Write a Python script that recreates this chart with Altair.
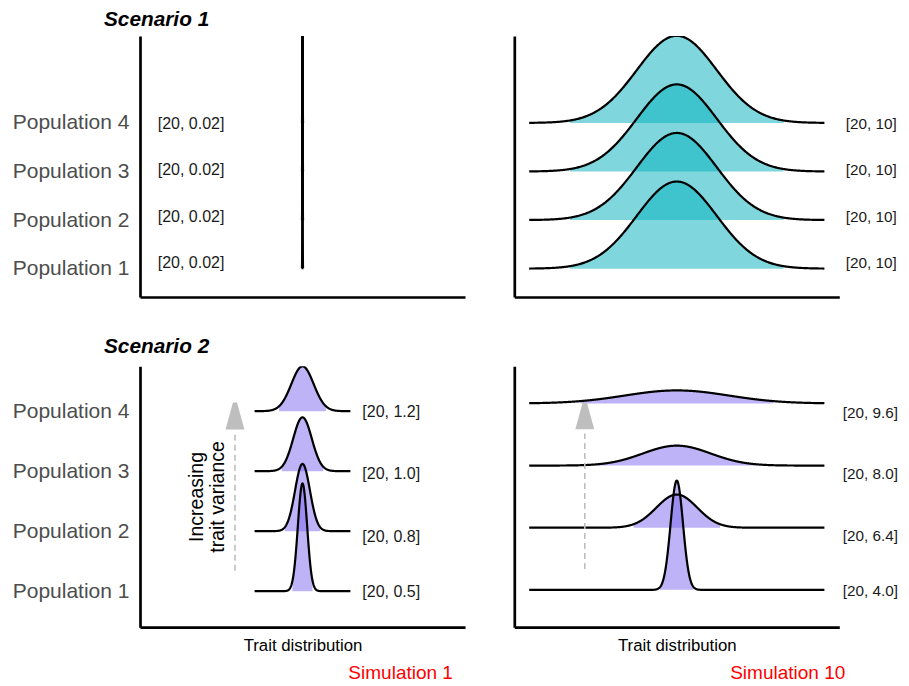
import numpy as np
import pandas as pd
import altair as alt

FONT = "Liberation Sans"
TEAL = "#00AFBB"
PURPLE = "#7B68EE"
ARROW_GREY = "#bebebe"

POPS = [1, 2, 3, 4]
MEAN = 20

# ---- Scenario 1 / Simulation 1 ----
S1_SIM1_LABELS = ["[20, 0.02]", "[20, 0.02]", "[20, 0.02]", "[20, 0.02]"]
S1_SIM1_SD = [0.02, 0.02, 0.02, 0.02]
S1_SIM1_FILL = [0.05, 0.05, 0.05, 0.05]
# ---- Scenario 1 / Simulation 10 ----
S1_SIM10_LABELS = ["[20, 10]", "[20, 10]", "[20, 10]", "[20, 10]"]
S1_SIM10_SD = [10, 10, 10, 10]
S1_SIM10_FILL = [26.75, 26.75, 26.75, 26.75]
# ---- Scenario 2 / Simulation 1 ----
S2_SIM1_LABELS = ["[20, 0.5]", "[20, 0.8]", "[20, 1.0]", "[20, 1.2]"]
S2_SIM1_SD = [0.5, 0.8, 1.0, 1.2]
S2_SIM1_FILL = [1.08, 1.9, 2.24, 2.53]
# ---- Scenario 2 / Simulation 10 ----
S2_SIM10_LABELS = ["[20, 4.0]", "[20, 6.4]", "[20, 8.0]", "[20, 9.6]"]
S2_SIM10_SD = [1.55, 5.1, 8.5, 13.0]
S2_SIM10_FILL = [4.2, 10.8, 20.0, 24.0]

# vertical placement of the bracket labels (in each panel's y units)
TOP_LABEL_Y = [1.126, 2.073, 3.041, 3.988]
BL_LABEL_Y = [0.978, 1.903, 2.95, 3.985]
BR_LABEL_Y = [0.974, 1.866, 2.865, 3.842]

LEFT_X = [2.5, 37.5]
RIGHT_X = [-20.625, 60.625]
TOP_Y = [0.416, 5.79]
BL_Y = [0.4, 4.75]
BR_Y = [0.4, 4.6]


def ridge_frame(sds, fill_half, span, scale, step):
    frames = []
    for p, s, fh in zip(POPS, sds, fill_half):
        xs = np.arange(MEAN - span, MEAN + span + step / 2, step)
        dens = scale * np.exp(-0.5 * ((xs - MEAN) / s) ** 2) / (s * np.sqrt(2 * np.pi))
        frames.append(pd.DataFrame({
            "pop": p,
            "x": np.round(xs, 4),
            "top": np.round(p + dens, 4),
            "base": p,
            "infill": np.abs(xs - MEAN) <= fh + 1e-9,
        }))
    return pd.concat(frames, ignore_index=True)


def panel(df, xdom, ydom, labels, label_x, label_y, label_size, fill, left, bottom, title=None,
          title_offset=5.7, stroke=2.2, extras=()):
    xtitle = "Trait distribution" if bottom else None
    xax = alt.Axis(labels=False, ticks=False, grid=False, domainColor="black", domainWidth=2.7,
                   title=xtitle, titleFont=FONT, titleFontSize=16.8,
                   titleFontWeight="normal", titleColor="black", titlePadding=10)
    if left:
        yax = alt.Axis(values=POPS, labelExpr="'Population ' + datum.value", labelFont=FONT,
                       labelFontSize=21, labelColor="#4d4d4d", labelPadding=11, ticks=False,
                       grid=False, domainColor="black", domainWidth=2.7, title=None,
                       minExtent=128, maxExtent=128)
    else:
        yax = alt.Axis(labels=False, ticks=False, grid=False, domainColor="black", domainWidth=2.7,
                       title=None, minExtent=0, maxExtent=0)
    xs = alt.Scale(domain=xdom, nice=False, zero=False)
    ys = alt.Scale(domain=ydom, nice=False, zero=False)
    base = alt.Chart(df)
    area = base.transform_filter("datum.infill").mark_area(color=fill, opacity=0.5, clip=True).encode(
        x=alt.X("x:Q", scale=xs, axis=xax, title=xtitle),
        y=alt.Y("top:Q", scale=ys, axis=yax, stack=None, title=None),
        y2="base:Q",
        detail="pop:N",
    )
    line = base.mark_line(color="black", strokeWidth=stroke, clip=True).encode(
        x=alt.X("x:Q", scale=xs, title=xtitle),
        y=alt.Y("top:Q", scale=ys, title=None),
        detail="pop:N",
    )
    lab_df = pd.DataFrame({"ly": label_y, "label": labels, "lx": label_x})
    text = alt.Chart(lab_df).mark_text(align="left", baseline="middle", font=FONT,
                                       fontSize=label_size, color="#1a1a1a").encode(
        x=alt.X("lx:Q", scale=xs, title=xtitle),
        y=alt.Y("ly:Q", scale=ys, title=None),
        text="label:N",
    )
    layers = [area, line, text]
    for e in extras:
        layers.append(e(xs, ys, xtitle))
    ch = alt.layer(*layers).properties(width=325, height=261)
    if title:
        ch = ch.properties(title=alt.TitleParams(title, anchor="start", frame="group", font=FONT,
                                                 fontSize=20.8, fontStyle="italic", fontWeight="bold",
                                                 color="black", dx=-36, offset=title_offset))
    return ch


def arrow(ax, ay1, ay2, ahead):
    def make(xs, ys, xtitle):
        rule_df = pd.DataFrame({"x": [ax], "y1": [ay1], "y2": [ay2]})
        head_df = pd.DataFrame({"x": [ax], "y": [ahead]})
        rule = alt.Chart(rule_df).mark_rule(color=ARROW_GREY, strokeWidth=1.6, strokeDash=[6, 4]).encode(
            x=alt.X("x:Q", scale=xs, title=xtitle), y=alt.Y("y1:Q", scale=ys, title=None), y2="y2:Q")
        head = alt.Chart(head_df).mark_point(
            shape="M-0.15,-1L0.15,-1L0.7,1L-0.7,1Z", size=729, filled=True, opacity=1,
            color=ARROW_GREY, strokeWidth=0).encode(
            x=alt.X("x:Q", scale=xs, title=xtitle), y=alt.Y("y:Q", scale=ys, title=None))
        return alt.layer(rule, head)
    return make


def note(tx, ty, txt, color, size, align="left", angle=0):
    def make(xs, ys, xtitle):
        d = pd.DataFrame({"x": [tx], "y": [ty], "t": [txt]})
        kw = dict(align=align, baseline="middle", font=FONT, fontSize=size, color=color,
                  lineBreak="\n", lineHeight=20.5)
        if angle:
            kw["angle"] = angle
        return alt.Chart(d).mark_text(**kw).encode(
            x=alt.X("x:Q", scale=xs, title=xtitle), y=alt.Y("y:Q", scale=ys, title=None), text="t:N")
    return make


tl = panel(ridge_frame(S1_SIM1_SD, S1_SIM1_FILL, 0.1, 2.248, 0.002), LEFT_X, TOP_Y,
           S1_SIM1_LABELS, 4.41, TOP_LABEL_Y, 16, TEAL, True, False, title="Scenario 1",
           title_offset=5.7, stroke=1.8)
tr = panel(ridge_frame(S1_SIM10_SD, S1_SIM10_FILL, 36.9, 44.97, 0.2), RIGHT_X, TOP_Y,
           S1_SIM10_LABELS, 62.25, TOP_LABEL_Y, 15.3, TEAL, False, False)
bl = panel(ridge_frame(S2_SIM1_SD, S2_SIM1_FILL, 5.16, 2.248, 0.02), LEFT_X, BL_Y,
           S2_SIM1_LABELS, 26.44, BL_LABEL_Y, 16, PURPLE, True, True, title="Scenario 2",
           title_offset=8.2,
           extras=[arrow(12.73, 1.34, 3.62, 3.92),
                   note(8.69, 2.57, "Increasing\ntrait variance", "black", 19.5, "center", 270),
                   note(36.2, -0.37, "Simulation 1", "#ff0000", 19, "right")])
br = panel(ridge_frame(S2_SIM10_SD, S2_SIM10_FILL, 36.9, 6.83, 0.05), RIGHT_X, BR_Y,
           S2_SIM10_LABELS, 61.5, BR_LABEL_Y, 15.3, PURPLE, False, True,
           extras=[arrow(-3.0, 1.334, 3.515, 3.80),
                   note(62.125, -0.34, "Simulation 10", "#ff0000", 19, "right")])

chart = alt.vconcat(
    alt.hconcat(tl, tr, spacing=49.3),
    alt.hconcat(bl, br, spacing=49.3),
    spacing=39.15,
).properties(
    padding={"left": 4, "top": 0, "right": 0, "bottom": 0},
    background="white",
).configure_view(stroke=None)

chart.save("out.html", embed_options={"renderer": "svg", "actions": False})
